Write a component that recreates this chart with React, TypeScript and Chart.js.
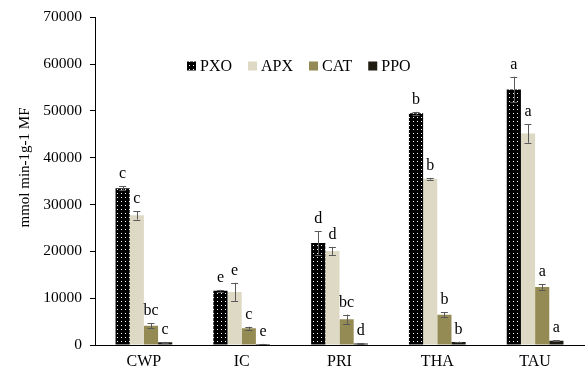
import React, { useEffect, useRef } from 'react';
import { Chart, registerables } from 'chart.js';
Chart.register(...registerables);

const FONT = '"Liberation Serif", "Times New Roman", serif';

const categories = ['CWP', 'IC', 'PRI', 'THA', 'TAU'];
const seriesNames = ['PXO', 'APX', 'CAT', 'PPO'];
const pxo = [33500, 11600, 21800, 49500, 54600];
const pxoErr = [400, 200, 2500, 300, 2700];
const apx = [27700, 11300, 20100, 35500, 45200];
const apxErr = [900, 2000, 850, 200, 2000];
const cat = [4100, 3600, 5500, 6450, 12400];
const catErr = [500, 300, 1000, 500, 600];
const ppo = [600, 200, 300, 650, 900];
const ppoErr = [80, 40, 40, 80, 80];
const pxoLetters = ['c', 'e', 'd', 'b', 'a'];
const apxLetters = ['c', 'e', 'd', 'b', 'a'];
const catLetters = ['bc', 'c', 'bc', 'b', 'a'];
const ppoLetters = ['c', 'e', 'd', 'b', 'a'];
const yTicks = [0, 10000, 20000, 30000, 40000, 50000, 60000, 70000];
const yTitle = 'mmol min-1g-1 MF';

const APX_COLOR = '#DDD9C4';
const CAT_COLOR = '#948A54';
const PPO_COLOR = '#1D1B10';

export default function App() {
  const ref = useRef<HTMLCanvasElement>(null);
  useEffect(() => {
    const canvas = ref.current!;
    const pc = document.createElement('canvas');
    pc.width = 4;
    pc.height = 4;
    const pctx = pc.getContext('2d')!;
    pctx.fillStyle = '#000';
    pctx.fillRect(0, 0, 4, 4);
    pctx.fillStyle = '#fff';
    pctx.fillRect(1, 1, 1, 1);
    const pattern = canvas.getContext('2d')!.createPattern(pc, 'repeat')!;

    const allData = [pxo, apx, cat, ppo];
    const allErr = [pxoErr, apxErr, catErr, ppoErr];
    const allLetters = [pxoLetters, apxLetters, catLetters, ppoLetters];
    const colors: any[] = [pattern, APX_COLOR, CAT_COLOR, PPO_COLOR];

    const errPlugin = {
      id: 'errs',
      afterDatasetsDraw(chart: any) {
        const ctx = chart.ctx;
        const ys = chart.scales.y;
        ctx.save();
        allData.forEach((data, i) => {
          const meta = chart.getDatasetMeta(i);
          meta.data.forEach((bar: any, j: number) => {
            const x = bar.x;
            const v = data[j];
            const e = allErr[i][j];
            const yTop = ys.getPixelForValue(v + e);
            const yBot = ys.getPixelForValue(v - e);
            ctx.strokeStyle = '#595959';
            ctx.lineWidth = 1;
            ctx.beginPath();
            ctx.moveTo(Math.round(x) + 0.5, yTop);
            ctx.lineTo(Math.round(x) + 0.5, yBot);
            ctx.moveTo(x - 3.5, Math.round(yTop) + 0.5);
            ctx.lineTo(x + 3.5, Math.round(yTop) + 0.5);
            ctx.moveTo(x - 3.5, Math.round(yBot) + 0.5);
            ctx.lineTo(x + 3.5, Math.round(yBot) + 0.5);
            ctx.stroke();
            ctx.fillStyle = '#000';
            ctx.font = `16px ${FONT}`;
            ctx.textAlign = 'center';
            ctx.textBaseline = 'alphabetic';
            ctx.fillText(allLetters[i][j], x, Math.min(yTop, bar.y) - 8);
          });
        });
        ctx.restore();
      },
      afterDraw(chart: any) {
        const ctx = chart.ctx;
        ctx.save();
        ctx.font = `16px ${FONT}`;
        ctx.textAlign = 'left';
        ctx.textBaseline = 'middle';
        let x = 187;
        const y = 66;
        seriesNames.forEach((name, i) => {
          ctx.fillStyle = colors[i];
          ctx.fillRect(x, y - 4.5, 9, 9);
          ctx.fillStyle = '#000';
          ctx.fillText(name, x + 13, y + 1);
          x += 13 + ctx.measureText(name).width + 16;
        });
        ctx.translate(25, 167.5);
        ctx.rotate(-Math.PI / 2);
        ctx.font = `15px ${FONT}`;
        ctx.textAlign = 'center';
        ctx.textBaseline = 'middle';
        ctx.fillStyle = '#000';
        ctx.fillText(yTitle, 0, 0);
        ctx.restore();
      },
    };

    const chart = new Chart(canvas, {
      type: 'bar',
      data: {
        labels: categories,
        datasets: seriesNames.map((name, i) => ({
          label: name,
          data: allData[i],
          backgroundColor: colors[i],
          borderWidth: 0,
          categoryPercentage: 0.58,
          barPercentage: 1.0,
        })),
      },
      options: {
        responsive: false,
        animation: false,
        devicePixelRatio: 1,
        layout: { padding: { top: 16, right: 3, left: 0, bottom: 0 } },
        plugins: { legend: { display: false }, tooltip: { enabled: false } },
        scales: {
          x: {
            grid: { display: false, drawTicks: false },
            border: { display: true, color: '#000', width: 1 },
            ticks: { color: '#000', font: { family: FONT, size: 16 }, padding: 7 },
            afterFit: (s: any) => { s.height = 25; },
          },
          y: {
            min: 0,
            max: 70000,
            afterBuildTicks: (s: any) => { s.ticks = yTicks.map((v) => ({ value: v })); },
            grid: { display: true, drawOnChartArea: false, drawTicks: true, tickLength: 5, color: '#000' },
            border: { display: true, color: '#000', width: 1 },
            ticks: {
              color: '#000',
              font: { family: FONT, size: 15.5 },
              padding: 8,
              callback: (v: any) => String(v),
            },
            afterFit: (s: any) => { s.width = 95; },
          },
        },
      },
      plugins: [errPlugin],
    });
    return () => chart.destroy();
  }, []);
  return (
    <canvas
      ref={ref}
      width={587}
      height={370}
      style={{ position: 'absolute', left: 0, top: 0, width: 587, height: 370 }}
    />
  );
}
